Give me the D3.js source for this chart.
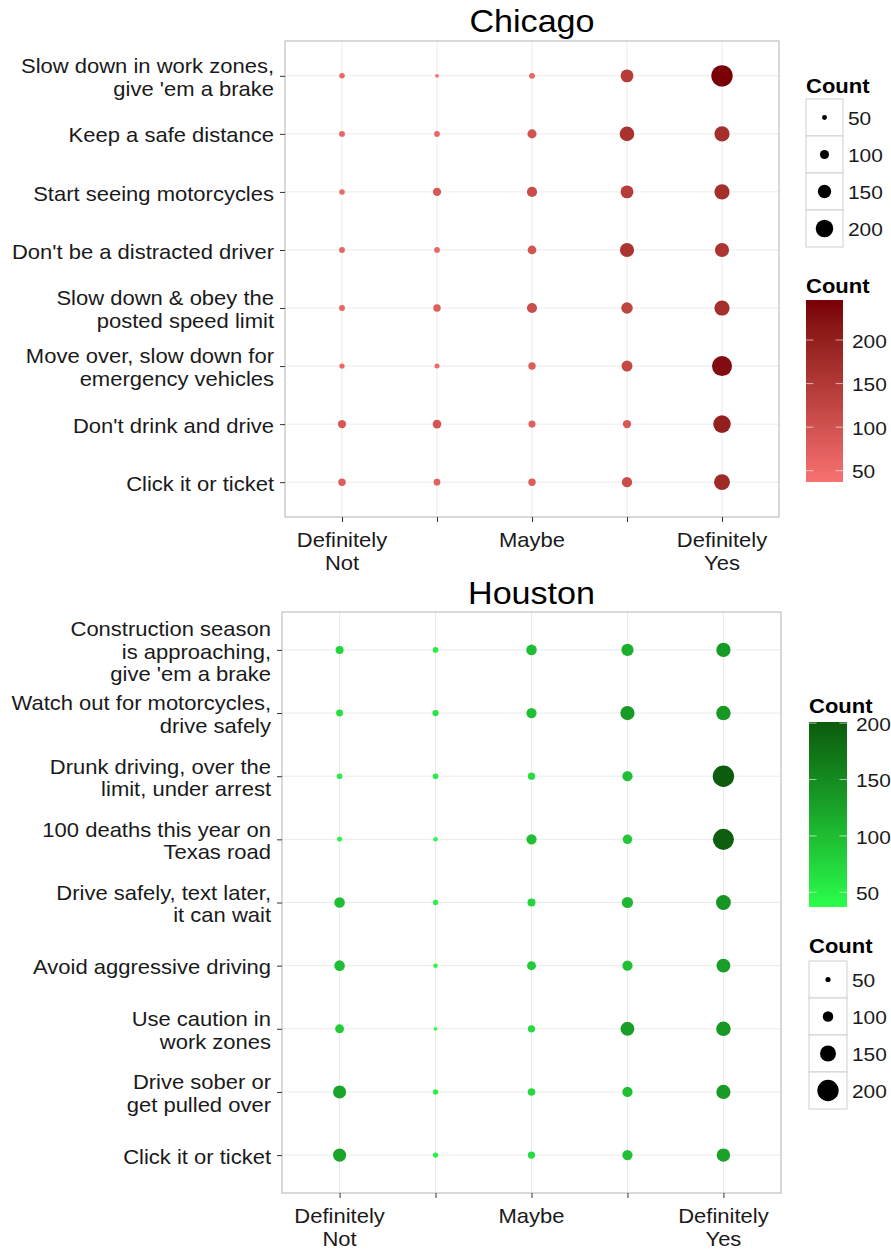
<!DOCTYPE html>
<html>
<head>
<meta charset="utf-8">
<script src="https://cdn.jsdelivr.net/npm/d3@7"></script>
<style>
  html, body { margin: 0; padding: 0; background: #fff; }
  svg text { font-family: "Liberation Sans", Arial, Helvetica, sans-serif; }
</style>
</head>
<body>
<svg id="chart" width="891" height="1249"></svg>
<script>
// ---------- DATA ----------
const responseLevels = [1, 2, 3, 4, 5];
const responseTickLabels = ["Definitely\nNot", "", "Maybe", "", "Definitely\nYes"];

const chicagoSlogans = [
  "Slow down in work zones,\ngive 'em a brake",
  "Keep a safe distance",
  "Start seeing motorcycles",
  "Don't be a distracted driver",
  "Slow down & obey the\nposted speed limit",
  "Move over, slow down for\nemergency vehicles",
  "Don't drink and drive",
  "Click it or ticket"
];
// counts per slogan (rows, top to bottom) across response levels 1..5
const chicagoCounts = [
  [58, 37, 62, 145, 246],
  [62, 60, 100, 165, 172],
  [58, 90, 112, 145, 172],
  [62, 60, 96, 160, 160],
  [62, 80, 112, 128, 172],
  [55, 52, 80, 122, 230],
  [90, 95, 76, 90, 200],
  [80, 72, 80, 114, 180]
];

const houstonSlogans = [
  "Construction season\nis approaching,\ngive 'em a brake",
  "Watch out for motorcycles,\ndrive safely",
  "Drunk driving, over the\nlimit, under arrest",
  "100 deaths this year on\nTexas road",
  "Drive safely, text later,\nit can wait",
  "Avoid aggressive driving",
  "Use caution in\nwork zones",
  "Drive sober or\nget pulled over",
  "Click it or ticket"
];
const houstonCounts = [
  [76, 54, 100, 115, 134],
  [66, 60, 97, 134, 137],
  [54, 54, 69, 97, 201],
  [48, 44, 97, 90, 198],
  [100, 51, 76, 106, 140],
  [100, 44, 85, 97, 131],
  [85, 37, 69, 131, 137],
  [124, 51, 72, 97, 134],
  [124, 51, 69, 97, 127]
];

const sizeBreaks = [50, 100, 150, 200];
const colorBreaks = [50, 100, 150, 200];

const chicagoColors = ["#f87272", "#780006"];
const houstonColors = ["#2bff4c", "#0c5c0e"];

// ---------- DRAWING ----------
const svg = d3.select("#chart");
const textColor = "#1a1a1a";
const SX = 1.1; // horizontal stretch of text as seen in the reference rendering

// text helper: multi-line, vertically centred on y
function txt(parent, x, y, str, o = {}) {
  const size = o.size || 20, lineH = o.lineH || 23;
  const t = parent.append("text")
    .attr("transform", `translate(${x},${y}) scale(${SX},1)`)
    .attr("text-anchor", o.anchor || "start")
    .attr("dominant-baseline", "central")
    .attr("font-size", size)
    .attr("font-weight", o.weight || "normal")
    .attr("fill", o.fill || textColor);
  const lines = String(str).split("\n");
  const off = o.topAlign ? 0 : -(lines.length - 1) / 2 * lineH;
  lines.forEach((ln, i) => {
    t.append("tspan").attr("x", 0).attr("dy", i === 0 ? off : lineH).text(ln);
  });
  return t;
}

function drawPanel(cfg) {
  const g = svg.append("g");
  const { left, right, top, bottom } = cfg.box;

  const x = d3.scalePoint().domain(responseLevels).range([left, right]).padding(0.6);
  const y = d3.scalePoint().domain(cfg.slogans).range([top, bottom]).padding(0.6);

  const flat = [];
  cfg.counts.forEach((row, i) => row.forEach((v, j) => flat.push({ s: cfg.slogans[i], r: responseLevels[j], v })));
  const ext = d3.extent(flat, d => d.v);

  const color = d3.scaleLinear().domain(ext).range(cfg.colors).interpolate(d3.interpolateLab);
  const radius = d3.scaleLinear().domain(ext).range([1.9, 10.7]);

  // panel background + grid
  g.append("rect").attr("x", left).attr("y", top).attr("width", right - left).attr("height", bottom - top)
    .attr("fill", "#fff");
  g.append("g").selectAll("line").data(responseLevels).join("line")
    .attr("x1", d => x(d)).attr("x2", d => x(d)).attr("y1", top).attr("y2", bottom)
    .attr("stroke", "#ebebeb").attr("stroke-width", 1);
  g.append("g").selectAll("line").data(cfg.slogans).join("line")
    .attr("y1", d => y(d)).attr("y2", d => y(d)).attr("x1", left).attr("x2", right)
    .attr("stroke", "#ebebeb").attr("stroke-width", 1);

  // points
  g.append("g").selectAll("circle").data(flat).join("circle")
    .attr("cx", d => x(d.r)).attr("cy", d => y(d.s))
    .attr("r", d => radius(d.v))
    .attr("fill", d => color(d.v));

  // border
  g.append("rect").attr("x", left).attr("y", top).attr("width", right - left).attr("height", bottom - top)
    .attr("fill", "none").attr("stroke", "#b3b3b3").attr("stroke-width", 1);

  // x axis
  const xa = g.append("g").attr("transform", `translate(0,${bottom})`)
    .call(d3.axisBottom(x).tickSize(5).tickFormat(""));
  xa.select(".domain").remove();
  xa.selectAll(".tick line").attr("stroke", "#333");
  responseLevels.forEach((lv, i) => {
    const lbl = responseTickLabels[i];
    if (!lbl) return;
    txt(g, x(lv), bottom + 22, lbl, { anchor: "middle", topAlign: true, lineH: 23 });
  });

  // y axis
  const ya = g.append("g").attr("transform", `translate(${left},0)`)
    .call(d3.axisLeft(y).tickSize(5).tickFormat(""));
  ya.select(".domain").remove();
  ya.selectAll(".tick line").attr("stroke", "#333");
  cfg.slogans.forEach(s => {
    txt(g, left - 11, y(s) + 1, s, { anchor: "end", lineH: cfg.lineH });
  });

  // title
  txt(g, (left + right) / 2, cfg.titleY, cfg.title, { anchor: "middle", size: 31, fill: "#000" });

  // legends
  cfg.legends.forEach(lg => {
    if (lg.type === "size") drawSizeLegend(lg, radius);
    else drawColorBar(lg, color, ext);
  });
}

function drawSizeLegend(lg, radius) {
  const g = svg.append("g");
  txt(g, lg.x, lg.titleY, "Count", { weight: "bold", fill: "#000" });
  const kh = lg.keyH, kw = lg.keyW;
  sizeBreaks.forEach((b, i) => {
    const yy = lg.y + i * kh;
    g.append("rect").attr("x", lg.x).attr("y", yy).attr("width", kw).attr("height", kh)
      .attr("fill", "#fff").attr("stroke", "#cfcfcf").attr("stroke-width", 1);
    g.append("circle").attr("cx", lg.x + kw / 2).attr("cy", yy + kh / 2).attr("r", radius(b)).attr("fill", "#000");
    txt(g, lg.x + kw + 5, yy + kh / 2 + 1, b, { size: 19 });
  });
}

function drawColorBar(lg, color, ext) {
  const g = svg.append("g");
  txt(g, lg.x, lg.titleY, "Count", { weight: "bold", fill: "#000" });
  const yb = d3.scaleLinear().domain(ext).range([lg.y + lg.h, lg.y]);
  const n = 120;
  const steps = d3.range(n).map(i => ext[0] + (ext[1] - ext[0]) * i / (n - 1));
  const clipId = "clip" + Math.round(lg.y);
  g.append("clipPath").attr("id", clipId).append("rect")
    .attr("x", lg.x).attr("y", lg.y).attr("width", lg.w).attr("height", lg.h);
  g.append("g").attr("clip-path", `url(#${clipId})`).selectAll("rect").data(steps).join("rect")
    .attr("x", lg.x).attr("width", lg.w)
    .attr("y", d => yb(d) - lg.h / (n - 1) / 2 - 0.5)
    .attr("height", lg.h / (n - 1) + 1)
    .attr("fill", d => color(d));
  const tl = lg.w / 5;
  colorBreaks.filter(b => b >= ext[0] && b <= ext[1]).forEach(b => {
    g.append("line").attr("x1", lg.x).attr("x2", lg.x + tl).attr("y1", yb(b)).attr("y2", yb(b))
      .attr("stroke", "#fff").attr("stroke-opacity", 0.6);
    g.append("line").attr("x1", lg.x + lg.w - tl).attr("x2", lg.x + lg.w).attr("y1", yb(b)).attr("y2", yb(b))
      .attr("stroke", "#fff").attr("stroke-opacity", 0.6);
    txt(g, lg.x + lg.w + 9, yb(b) + 1, b, { size: 19 });
  });
}

drawPanel({
  title: "Chicago", titleY: 22,
  box: { left: 285, right: 779, top: 41, bottom: 517 },
  slogans: chicagoSlogans, counts: chicagoCounts, colors: chicagoColors, lineH: 23,
  legends: [
    { type: "size", x: 806, titleY: 85, y: 99, keyW: 37, keyH: 37 },
    { type: "color", x: 806, titleY: 285, y: 300, w: 37, h: 182 }
  ]
});

drawPanel({
  title: "Houston", titleY: 594,
  box: { left: 282, right: 781, top: 612, bottom: 1193 },
  slogans: houstonSlogans, counts: houstonCounts, colors: houstonColors, lineH: 22.5,
  legends: [
    { type: "color", x: 809, titleY: 705, y: 722, w: 38, h: 185 },
    { type: "size", x: 809, titleY: 945, y: 961, keyW: 38, keyH: 37 }
  ]
});
</script>
</body>
</html>
